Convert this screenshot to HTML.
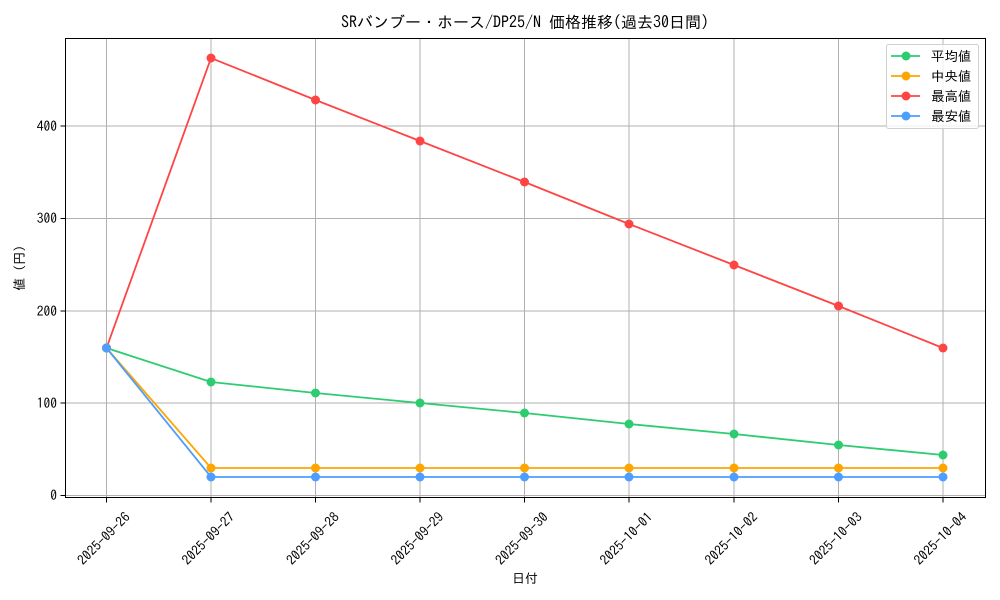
<!DOCTYPE html>
<html><head><meta charset="utf-8"><style>body{margin:0;background:#fff}svg{display:block}text{font-family:"IPAGothic","Liberation Sans","Noto Sans CJK JP",sans-serif;fill:#000}</style></head>
<body>
<svg width="1000" height="600" viewBox="0 0 1000 600" xmlns="http://www.w3.org/2000/svg">
<g stroke="#b0b0b0" stroke-width="1">
<line x1="106.5" y1="38.5" x2="106.5" y2="497.5"/><line x1="211" y1="38.5" x2="211" y2="497.5"/><line x1="315.5" y1="38.5" x2="315.5" y2="497.5"/><line x1="420" y1="38.5" x2="420" y2="497.5"/><line x1="524.5" y1="38.5" x2="524.5" y2="497.5"/><line x1="629" y1="38.5" x2="629" y2="497.5"/><line x1="734" y1="38.5" x2="734" y2="497.5"/><line x1="838.5" y1="38.5" x2="838.5" y2="497.5"/><line x1="943" y1="38.5" x2="943" y2="497.5"/>
<line x1="65.5" y1="495.5" x2="985.5" y2="495.5"/><line x1="65.5" y1="403" x2="985.5" y2="403"/><line x1="65.5" y1="311" x2="985.5" y2="311"/><line x1="65.5" y1="218.5" x2="985.5" y2="218.5"/><line x1="65.5" y1="126" x2="985.5" y2="126"/>
</g>
<g stroke="#000" stroke-width="1">
<line x1="106.5" y1="497.5" x2="106.5" y2="502.5"/><line x1="211" y1="497.5" x2="211" y2="502.5"/><line x1="315.5" y1="497.5" x2="315.5" y2="502.5"/><line x1="420" y1="497.5" x2="420" y2="502.5"/><line x1="524.5" y1="497.5" x2="524.5" y2="502.5"/><line x1="629" y1="497.5" x2="629" y2="502.5"/><line x1="734" y1="497.5" x2="734" y2="502.5"/><line x1="838.5" y1="497.5" x2="838.5" y2="502.5"/><line x1="943" y1="497.5" x2="943" y2="502.5"/>
<line x1="60.5" y1="495.5" x2="65.5" y2="495.5"/><line x1="60.5" y1="403" x2="65.5" y2="403"/><line x1="60.5" y1="311" x2="65.5" y2="311"/><line x1="60.5" y1="218.5" x2="65.5" y2="218.5"/><line x1="60.5" y1="126" x2="65.5" y2="126"/>
</g>
<g font-size="13.5" text-anchor="end">
<text x="57" y="500">0</text><text x="57" y="408">100</text><text x="57" y="316">200</text><text x="57" y="223">300</text><text x="57" y="131">400</text>
</g>
<g font-size="13.5" text-anchor="end">
<text transform="translate(131,518) rotate(-45)">2025-09-26</text>
<text transform="translate(235.5,518) rotate(-45)">2025-09-27</text>
<text transform="translate(340,518) rotate(-45)">2025-09-28</text>
<text transform="translate(444.5,518) rotate(-45)">2025-09-29</text>
<text transform="translate(549,518) rotate(-45)">2025-09-30</text>
<text transform="translate(653.5,518) rotate(-45)">2025-10-01</text>
<text transform="translate(758.5,518) rotate(-45)">2025-10-02</text>
<text transform="translate(863,518) rotate(-45)">2025-10-03</text>
<text transform="translate(967.5,518) rotate(-45)">2025-10-04</text>
</g>
<text x="525" y="583" font-size="13" text-anchor="middle">日付</text>
<text transform="translate(24,268) rotate(-90)" font-size="13" text-anchor="middle">値 (円)</text>
<text x="525" y="28" font-size="16" text-anchor="middle">SRバンブー・ホース/DP25/N 価格推移(過去30日間)</text>
<g fill="none" stroke-width="1.8">
<polyline stroke="#2ecc71" points="106.5,348 211,382 315.5,393 420,403 524.5,413 629,424 734,434 838.5,445 943,455"/>
<polyline stroke="#ffa500" points="106.5,348 211,468 315.5,468 420,468 524.5,468 629,468 734,468 838.5,468 943,468"/>
<polyline stroke="#ff4444" points="106.5,348 211,58 315.5,100 420,141 524.5,182 629,224 734,265 838.5,306 943,348"/>
<polyline stroke="#4d9eff" points="106.5,348 211,477 315.5,477 420,477 524.5,477 629,477 734,477 838.5,477 943,477"/>
</g>
<g fill="#2ecc71"><circle cx="106.5" cy="348" r="4.5"/><circle cx="211" cy="382" r="4.5"/><circle cx="315.5" cy="393" r="4.5"/><circle cx="420" cy="403" r="4.5"/><circle cx="524.5" cy="413" r="4.5"/><circle cx="629" cy="424" r="4.5"/><circle cx="734" cy="434" r="4.5"/><circle cx="838.5" cy="445" r="4.5"/><circle cx="943" cy="455" r="4.5"/></g>
<g fill="#ffa500"><circle cx="106.5" cy="348" r="4.5"/><circle cx="211" cy="468" r="4.5"/><circle cx="315.5" cy="468" r="4.5"/><circle cx="420" cy="468" r="4.5"/><circle cx="524.5" cy="468" r="4.5"/><circle cx="629" cy="468" r="4.5"/><circle cx="734" cy="468" r="4.5"/><circle cx="838.5" cy="468" r="4.5"/><circle cx="943" cy="468" r="4.5"/></g>
<g fill="#ff4444"><circle cx="106.5" cy="348" r="4.5"/><circle cx="211" cy="58" r="4.5"/><circle cx="315.5" cy="100" r="4.5"/><circle cx="420" cy="141" r="4.5"/><circle cx="524.5" cy="182" r="4.5"/><circle cx="629" cy="224" r="4.5"/><circle cx="734" cy="265" r="4.5"/><circle cx="838.5" cy="306" r="4.5"/><circle cx="943" cy="348" r="4.5"/></g>
<g fill="#4d9eff"><circle cx="106.5" cy="348" r="4.5"/><circle cx="211" cy="477" r="4.5"/><circle cx="315.5" cy="477" r="4.5"/><circle cx="420" cy="477" r="4.5"/><circle cx="524.5" cy="477" r="4.5"/><circle cx="629" cy="477" r="4.5"/><circle cx="734" cy="477" r="4.5"/><circle cx="838.5" cy="477" r="4.5"/><circle cx="943" cy="477" r="4.5"/></g>
<rect x="65.5" y="38.5" width="920" height="459" fill="none" stroke="#000" stroke-width="1"/>
<rect x="886.5" y="44.5" width="92" height="84" rx="2" fill="#fff" fill-opacity="0.8" stroke="#d0d0d0"/>
<g stroke-width="1.8">
<line x1="891" y1="56" x2="920" y2="56" stroke="#2ecc71"/><circle cx="906" cy="56" r="4.5" fill="#2ecc71"/>
<line x1="891" y1="76" x2="920" y2="76" stroke="#ffa500"/><circle cx="906" cy="76" r="4.5" fill="#ffa500"/>
<line x1="891" y1="96" x2="920" y2="96" stroke="#ff4444"/><circle cx="906" cy="96" r="4.5" fill="#ff4444"/>
<line x1="891" y1="116" x2="920" y2="116" stroke="#4d9eff"/><circle cx="906" cy="116" r="4.5" fill="#4d9eff"/>
</g>
<g font-size="13.5">
<text x="931" y="61">平均値</text><text x="931" y="81">中央値</text><text x="931" y="101">最高値</text><text x="931" y="121">最安値</text>
</g>
</svg>
</body></html>
